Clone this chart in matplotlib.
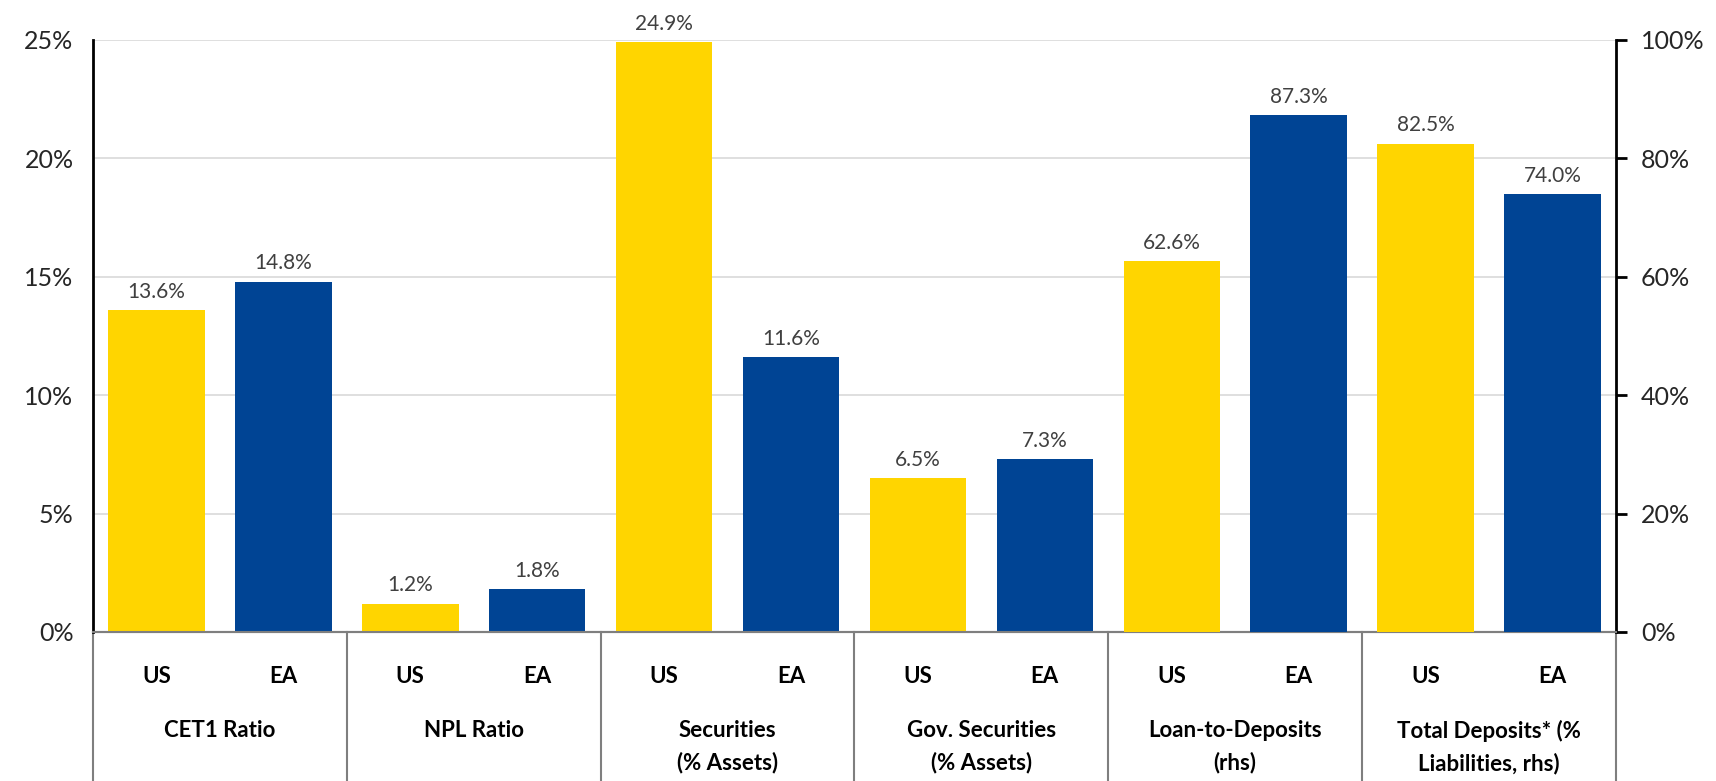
import numpy as np
import matplotlib.pyplot as plt
from matplotlib.ticker import PercentFormatter
from matplotlib.transforms import blended_transform_factory

plt.rcParams['font.family'] = ['Lato', 'DejaVu Sans']

categories = ['CET1 Ratio', 'NPL Ratio', 'Securities\n(% Assets)',
              'Gov. Securities\n(% Assets)', 'Loan-to-Deposits\n(rhs)',
              'Total Deposits* (%\nLiabilities, rhs)']
regions = ['US', 'EA']
us_values = [13.6, 1.2, 24.9, 6.5, 62.6, 82.5]
ea_values = [14.8, 1.8, 11.6, 7.3, 87.3, 74.0]
on_rhs = [False, False, False, False, True, True]

yellow = '#FFD500'
blue = '#004494'

fig = plt.figure(figsize=(17.16, 7.81), dpi=100)
ax = fig.add_axes([0.0542, 0.1908, 0.8875, 0.758])
ax2 = ax.twinx()

width = 0.76
for i in range(len(categories)):
    target = ax2 if on_rhs[i] else ax
    for j, (val, col) in enumerate([(us_values[i], yellow), (ea_values[i], blue)]):
        x = 2 * i + j
        target.bar(x, val, width=width, color=col, zorder=3)
        target.annotate('{:.1f}%'.format(val), (x, val), xytext=(0, 6),
                        textcoords='offset points', ha='center', va='bottom',
                        fontsize=15, color='#404040')

ax.set_xlim(-0.5, 2 * len(categories) - 0.5)
ax.set_ylim(0, 25)
ax2.set_ylim(0, 100)
ax.set_yticks(np.arange(0, 26, 5))
ax2.set_yticks(np.arange(0, 101, 20))
ax.yaxis.set_major_formatter(PercentFormatter(decimals=0))
ax2.yaxis.set_major_formatter(PercentFormatter(decimals=0))
ax.tick_params(axis='y', length=0, labelsize=18, labelcolor='#262626', pad=14)
ax2.tick_params(axis='y', length=8, width=2, direction='out', labelsize=18,
                color='black', labelcolor='#262626', pad=10)
ax.set_xticks([])
ax.grid(axis='y', color='#d9d9d9', linewidth=1.2, zorder=0)
ax.set_axisbelow(True)

for a in (ax, ax2):
    a.spines['top'].set_visible(False)
    a.spines['bottom'].set_color('#7f7f7f')
    a.spines['bottom'].set_linewidth(1.5)
ax.spines['right'].set_visible(False)
ax2.spines['left'].set_visible(False)
ax.spines['left'].set_linewidth(2)
ax.spines['left'].set_color('black')
ax2.spines['right'].set_linewidth(2)
ax2.spines['right'].set_color('black')

# category separators and two-level labels below the axis
trans = blended_transform_factory(ax.transData, fig.transFigure)
for k in range(len(categories) + 1):
    xs = 2 * k - 0.5
    ax.plot([xs, xs], [0, 0.1908], transform=trans, color='#7f7f7f',
            linewidth=1.5, clip_on=False)
for i, cat in enumerate(categories):
    for j, reg in enumerate(regions):
        ax.text(2 * i + j, 0.134, reg, transform=trans, ha='center',
                va='center', fontsize=16, fontweight='bold', color='black')
    ax.text(2 * i + 0.5, 0.078, cat, transform=trans, ha='center', va='top',
            fontsize=16, fontweight='bold', color='black', linespacing=1.6)

fig.savefig('out.png', dpi=100)
